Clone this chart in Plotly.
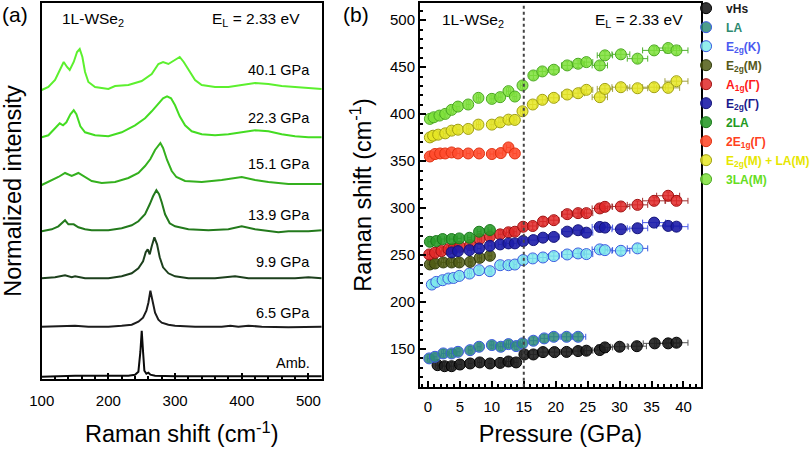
import plotly.graph_objects as go

# ---------------- Panel (a): Raman spectra ----------------
spec_labels = ["Amb.", "6.5 GPa", "9.9 GPa", "13.9 GPa", "15.1 GPa", "22.3 GPa", "40.1 GPa"]
spec_offsets = [0, 49, 97.4, 144.4, 191.7, 238.4, 286.7]
spec_colors = ["#0a0a0a", "#1c1c1c", "#1d401d", "#237a1c", "#34b01e", "#44dc22", "#5cf02e"]

amb_x = [100, 150, 200, 230, 240, 245, 248, 250, 252, 254, 257, 260, 263, 270, 300, 350, 380, 400, 420, 520]
amb_y = [0, 1, 1, 1, 2, 5, 25, 46, 25, 6, 3, 4, 2, 1, 0.5, 0.5, 0.5, 1, 0.3, 0.5]

p65_x = [100, 130, 150, 170, 200, 220, 235, 245, 252, 257, 260, 263, 266, 270, 275, 280, 290, 300, 330, 370, 383, 395, 410, 430, 470, 520]
p65_y = [1, 2, 2, 1, 1, 2, 3, 6, 10, 17, 25, 37, 28, 15, 8, 5, 3, 2, 1, 1, 2, 1, 2, 1, 0.5, 1]

p99_x = [100, 120, 135, 145, 150, 165, 200, 220, 235, 245, 252, 256, 259, 262, 265, 269, 273, 277, 282, 290, 300, 320, 360, 390, 410, 450, 480, 500, 520]
p99_y = [1, 2, 4, 2, 3, 1, 1, 3, 6, 11, 18, 27, 30, 25, 33, 42, 35, 22, 12, 6, 3, 1, 1, 3, 1, 1, 1, 2, 1]

p139_x = [100, 115, 125, 135, 140, 148, 155, 165, 175, 200, 220, 235, 245, 255, 262, 267, 272, 276, 280, 285, 292, 300, 320, 350, 380, 400, 420, 440, 455, 470, 500, 520]
p139_y = [1, 3, 6, 12, 8, 8, 5, 3, 2, 2, 4, 7, 11, 18, 28, 36, 42, 38, 30, 18, 9, 6, 3, 2, 3, 6, 3, 1, 0, 1, 1, 2]

p151_x = [100, 110, 125, 135, 145, 155, 165, 175, 190, 210, 230, 245, 255, 263, 270, 275, 278, 282, 288, 295, 302, 315, 340, 370, 400, 420, 440, 470, 500, 520]
p151_y = [0, 3, 8, 12, 9, 12, 8, 4, 2, 3, 7, 12, 19, 26, 35, 40, 42, 37, 25, 14, 8, 4, 3, 5, 8, 5, 3, 1, 1, 1]

p223_x = [100, 110, 120, 127, 132, 137, 143, 148, 152, 158, 165, 180, 200, 220, 240, 255, 265, 275, 282, 288, 294, 300, 307, 315, 325, 340, 360, 380, 400, 420, 440, 460, 480, 500, 520]
p223_y = [1, 3, 10, 15, 13, 16, 24, 28, 24, 12, 6, 3, 2, 6, 13, 20, 27, 35, 40, 42, 40, 33, 22, 13, 7, 4, 3, 4, 6, 8, 7, 4, 2, 1, 1]

p401_x = [100, 110, 120, 128, 133, 138, 142, 148, 153, 157, 161, 165, 170, 180, 200, 210, 230, 250, 265, 275, 282, 290, 300, 307, 313, 320, 330, 340, 360, 380, 400, 420, 440, 460, 480, 500, 520]
p401_y = [0, 3, 10, 22, 28, 23, 20, 28, 38, 41, 33, 18, 8, 3, 1, 4, 5, 9, 16, 26, 28, 26, 30, 33, 28, 20, 10, 5, 3, 3, 5, 7, 6, 4, 3, 2, 1]

spectra_x = [amb_x, p65_x, p99_x, p139_x, p151_x, p223_x, p401_x]
spectra_y = [amb_y, p65_y, p99_y, p139_y, p151_y, p223_y, p401_y]

# ---------------- Panel (b): Raman shift vs pressure ----------------
vhs_p = [1.5, 2.6, 3.7, 5.0, 6.6, 8.1, 9.7, 11.3, 12.6, 13.8, 15.1, 16.5, 18.0, 19.8, 21.7, 23.5, 24.8, 26.9, 27.7, 30.0, 32.7, 35.5, 37.6, 38.9]
vhs_w = [132.9, 131.8, 131.8, 133.6, 134.7, 135.8, 134.7, 135.3, 136.8, 135.8, 144.3, 144.3, 146.8, 146.8, 147.0, 147.9, 148.3, 149.0, 151.8, 152.5, 153.1, 156.1, 156.1, 156.8]
vhs_e = [0.3, 0.3, 0.3, 0.3, 0.3, 0.3, 0.3, 0.3, 0.3, 0.3, 0.5, 0.6, 0.8, 0.8, 0.9, 1.0, 1.0, 1.2, 1.2, 1.4, 1.5, 1.8, 1.8, 1.8]

la_p = [0.2, 1.1, 2.4, 3.7, 4.7, 6.6, 8.0, 10.0, 11.4, 12.6, 13.8, 14.8, 16.5, 18.2, 19.7, 21.7, 23.5]
la_w = [140.1, 141.8, 145.4, 145.4, 147.1, 148.9, 152.5, 154.3, 152.5, 155.3, 153.2, 156.1, 158.9, 161.4, 163.1, 163.1, 163.1]
la_e = [0.3, 0.3, 0.3, 0.3, 0.3, 0.3, 0.3, 0.3, 0.3, 0.3, 0.3, 0.3, 0.6, 0.6, 0.8, 0.9, 1.2]

e2gk_p = [0.6, 1.3, 2.3, 3.2, 4.0, 4.9, 6.5, 8.0, 9.7, 11.3, 12.6, 13.6, 14.9, 16.4, 18.0, 19.7, 21.8, 23.5, 24.8, 26.9, 27.7, 30.2, 32.8]
e2gk_w = [218.7, 221.5, 223.3, 225.1, 225.7, 227.9, 230.4, 234.0, 232.9, 239.3, 239.3, 240.0, 244.7, 246.5, 247.5, 249.0, 250.7, 251.8, 251.1, 256.1, 255.3, 254.6, 257.2]
e2gk_e = [0.3, 0.3, 0.3, 0.3, 0.3, 0.3, 0.3, 0.3, 0.3, 0.3, 0.3, 0.3, 0.3, 0.6, 0.6, 0.8, 0.9, 1.0, 1.0, 1.2, 1.2, 1.4, 1.6]

e2gm_p = [0.3, 1.1, 2.4, 3.7, 4.9, 6.6, 8.1, 9.7]
e2gm_w = [240.1, 241.1, 242.2, 242.2, 242.2, 242.8, 247.1, 249.3]
e2gm_e = [0.3, 0.3, 0.3, 0.3, 0.3, 0.3, 0.3, 0.3]

a1g_p = [0.2, 1.1, 2.1, 3.2, 4.0, 5.0, 6.6, 8.1, 9.7, 11.3, 12.6, 13.6, 14.9, 16.4, 18.0, 19.7, 21.8, 23.5, 24.8, 26.9, 27.7, 30.2, 32.8, 35.4, 37.6, 38.9]
a1g_w = [250.7, 252.5, 254.3, 256.4, 257.2, 258.9, 260.7, 267.1, 269.6, 272.1, 274.3, 274.9, 280.2, 281.0, 285.7, 287.2, 293.6, 294.7, 294.7, 299.7, 301.4, 301.8, 303.5, 307.8, 313.2, 307.8]
a1g_e = [0.3, 0.3, 0.3, 0.3, 0.3, 0.3, 0.3, 0.3, 0.3, 0.3, 0.3, 0.3, 0.3, 0.6, 0.6, 0.8, 0.9, 1.0, 1.0, 1.2, 1.2, 1.4, 1.6, 1.8, 1.8, 1.8]

e2gg_p = [3.7, 4.7, 6.5, 8.0, 9.7, 11.3, 12.6, 13.6, 14.9, 16.5, 18.0, 19.7, 21.8, 23.5, 24.8, 26.9, 27.7, 30.2, 32.8, 35.4, 37.6, 38.9]
e2gg_w = [252.9, 254.3, 255.3, 257.1, 259.9, 261.4, 262.5, 262.5, 265.0, 266.0, 268.6, 269.4, 275.0, 276.5, 273.9, 280.0, 279.3, 277.6, 278.6, 284.6, 281.1, 280.3]
e2gg_e = [0.3, 0.3, 0.3, 0.3, 0.3, 0.3, 0.3, 0.3, 0.3, 0.6, 0.6, 0.8, 0.9, 1.0, 1.0, 1.2, 1.2, 1.4, 1.6, 1.8, 1.8, 1.8]

la2_p = [0.3, 1.3, 2.3, 3.7, 4.9, 6.5, 8.0, 9.7]
la2_w = [264.2, 265.0, 267.1, 267.1, 267.8, 268.5, 274.9, 276.7]
la2_e = [0.3, 0.3, 0.3, 0.3, 0.3, 0.3, 0.3, 0.3]

e1g2_p = [0.3, 1.1, 1.9, 2.7, 3.7, 4.7, 6.3, 8.0, 10.0, 11.4, 12.6, 13.6]
e1g2_w = [355.0, 357.6, 358.2, 358.2, 359.3, 358.2, 358.2, 358.2, 357.6, 358.6, 364.6, 358.2]
e1g2_e = [0.3, 0.3, 0.3, 0.3, 0.3, 0.3, 0.3, 0.3, 0.3, 0.3, 0.3, 0.3]

comb_p = [0.3, 0.8, 1.6, 2.7, 3.7, 4.7, 6.3, 7.9, 10.0, 11.3, 12.6, 13.6, 14.8, 16.4, 17.9, 19.7, 21.8, 23.5, 24.8, 26.9, 27.7, 30.2, 32.8, 35.4, 37.6, 38.9]
comb_w = [375.3, 377.1, 378.2, 379.6, 382.5, 383.5, 384.3, 388.9, 388.9, 391.3, 394.2, 393.9, 403.1, 410.3, 415.3, 417.4, 420.9, 422.3, 425.9, 418.1, 426.9, 428.7, 427.6, 428.7, 428.0, 435.1]
comb_e = [0.3, 0.3, 0.3, 0.3, 0.3, 0.3, 0.3, 0.3, 0.3, 0.3, 0.3, 0.3, 0.3, 0.6, 0.6, 0.8, 0.9, 1.0, 1.0, 1.2, 1.2, 1.4, 1.6, 1.8, 1.8, 1.8]

la3_p = [0.3, 0.9, 1.8, 2.7, 3.7, 4.7, 6.3, 7.9, 10.0, 11.3, 12.6, 13.6, 14.8, 16.5, 17.9, 19.7, 21.8, 23.5, 24.8, 26.9, 27.7, 30.2, 32.8, 35.4, 37.6, 38.9]
la3_w = [395.0, 396.7, 398.5, 400.3, 404.6, 408.1, 410.3, 417.4, 416.3, 418.1, 424.5, 418.8, 430.6, 441.2, 445.5, 447.3, 451.9, 453.7, 455.4, 451.9, 462.6, 463.7, 459.1, 467.9, 470.4, 467.9]
la3_e = [0.3, 0.3, 0.3, 0.3, 0.3, 0.3, 0.3, 0.3, 0.3, 0.3, 0.3, 0.3, 0.3, 0.6, 0.6, 0.8, 0.9, 1.0, 1.0, 1.2, 1.2, 1.4, 1.6, 1.8, 1.8, 1.8]

series = [
    # name, P, w, xerr, fill, edge, errcolor, legend text colour, show vertical cross
    ("vHs", vhs_p, vhs_w, vhs_e, "rgba(30,30,30,0.9)", "#000000", "#555555", "#1a1a1a", True),
    ("LA", la_p, la_w, la_e, "rgba(46,140,120,0.85)", "#3a5ae0", "#3a5ae0", "#2e8a70", True),
    ("E<sub>2g</sub>(K)", e2gk_p, e2gk_w, e2gk_e, "rgba(128,235,235,0.85)", "#3a5ae0", "#3a5ae0", "#4a5af0", True),
    ("E<sub>2g</sub>(M)", e2gm_p, e2gm_w, e2gm_e, "rgba(80,92,20,0.85)", "#2e3a0a", "#3a4a10", "#55581a", True),
    ("A<sub>1g</sub>(Γ)", a1g_p, a1g_w, a1g_e, "rgba(225,40,40,0.85)", "#a01010", "#a03030", "#ff1a1a", True),
    ("E<sub>2g</sub>(Γ)", e2gg_p, e2gg_w, e2gg_e, "rgba(28,28,168,0.9)", "#14147a", "#4a5ae8", "#1a1a8c", False),
    ("2LA", la2_p, la2_w, la2_e, "rgba(42,155,42,0.9)", "#1a7a1a", "#1a7a1a", "#229922", False),
    ("2E<sub>1g</sub>(Γ)", e1g2_p, e1g2_w, e1g2_e, "rgba(255,75,45,0.9)", "#e03010", "#e03010", "#ff4020", False),
    ("E<sub>2g</sub>(M) + LA(M)", comb_p, comb_w, comb_e, "rgba(230,230,35,0.85)", "#a0a010", "#a0a040", "#e6e600", True),
    ("3LA(M)", la3_p, la3_w, la3_e, "rgba(126,224,58,0.85)", "#4aa820", "#50b030", "#66dd22", True),
]

FONT = "Liberation Sans, Arial, sans-serif"
fig = go.Figure()

for lbl, xs, ys, off, col in zip(spec_labels, spectra_x, spectra_y, spec_offsets, spec_colors):
    fig.add_trace(go.Scatter(x=xs, y=[v + off for v in ys], mode="lines",
                             line=dict(color=col, width=2), showlegend=False,
                             xaxis="x", yaxis="y", hoverinfo="skip"))

for name, xs, ys, xe, fill, edge, ecol, tcol, cross in series:
    fig.add_trace(go.Scatter(
        x=xs, y=ys, mode="markers", xaxis="x2", yaxis="y2",
        name="<b><span style='color:%s'>%s</span></b>" % (tcol, name),
        marker=dict(size=11, color=fill, line=dict(color=edge, width=1)),
        error_x=dict(type="data", array=xe, color=ecol, thickness=1, width=3),
        error_y=dict(type="constant", value=(4 if cross else 0), color=ecol, thickness=1, width=2, visible=cross),
    ))

axis_common = dict(showline=True, linecolor="black", linewidth=2, mirror=True,
                   showgrid=False, zeroline=False, automargin=False,
                   tickfont=dict(family=FONT, size=15, color="black"))
TITLE_SIZE = 23.5

fig.update_layout(
    width=810, height=452,
    margin=dict(l=0, r=0, t=0, b=0, autoexpand=False),
    paper_bgcolor="white", plot_bgcolor="white",
    font=dict(family=FONT, color="black"),
    xaxis=dict(domain=[0.0515, 0.3972], range=[100, 520], anchor="y",
               ticks="inside", ticklen=6, tickwidth=1.5, tickcolor="black",
               tickvals=[100, 200, 300, 400, 500], ticklabelstandoff=7,
               minor=dict(ticks="inside", ticklen=3, dtick=20, tickcolor="black"),
               title=dict(text="Raman shift (cm<sup>-1</sup>)", font=dict(size=TITLE_SIZE, family=FONT), standoff=18),
               **axis_common),
    yaxis=dict(domain=[0.1615, 0.9934], range=[-2.3, 373.7], anchor="x",
               showticklabels=False, ticks="",
               title=dict(text="Normalized intensity", font=dict(size=TITLE_SIZE, family=FONT), standoff=20),
               **axis_common),
    xaxis2=dict(domain=[0.5185, 0.8651], range=[-1.25, 42.7], anchor="y2",
                ticks="inside", ticklen=6, tickwidth=1.5, tickcolor="black", dtick=5, ticklabelstandoff=5,
                minor=dict(ticks="inside", ticklen=3, dtick=1, tickcolor="black"),
                title=dict(text="Pressure (GPa)", font=dict(size=TITLE_SIZE, family=FONT), standoff=12),
                **axis_common),
    yaxis2=dict(domain=[0.1445, 0.9927], range=[110, 518], anchor="x2",
                ticks="inside", ticklen=6, tickwidth=1.5, tickcolor="black", dtick=50,
                minor=dict(ticks="inside", ticklen=3, dtick=10, tickcolor="black"),
                title=dict(text="Raman shift (cm<sup>-1</sup>)", font=dict(size=TITLE_SIZE, family=FONT), standoff=12),
                **axis_common),
    legend=dict(x=0.847, y=1.014, xanchor="left", yanchor="top",
                bgcolor="rgba(0,0,0,0)", font=dict(family=FONT, size=12),
                tracegroupgap=0, itemwidth=30),
    shapes=[dict(type="line", xref="x2", yref="y2 domain", x0=15, x1=15, y0=0, y1=1,
                 line=dict(color="#444444", width=2, dash="dot"))],
)

ann = []
# panel labels
ann.append(dict(text="(a)", x=0.0, y=0.968, xref="paper", yref="paper", xanchor="left", yanchor="middle",
                showarrow=False, font=dict(size=21, family=FONT)))
ann.append(dict(text="(b)", x=0.421, y=0.968, xref="paper", yref="paper", xanchor="left", yanchor="middle",
                showarrow=False, font=dict(size=21, family=FONT)))
# in-panel text
for xr, yr, xa in [("x domain", "y domain", 0.065), ("x2 domain", "y2 domain", 0.07)]:
    ann.append(dict(text="1L-WSe<sub>2</sub>", x=xa, y=0.955, xref=xr, yref=yr, xanchor="left", yanchor="middle",
                    showarrow=False, font=dict(size=15.5, family=FONT)))
ann.append(dict(text="E<sub>L</sub> = 2.33 eV", x=0.93, y=0.955, xref="x domain", yref="y domain",
                xanchor="right", yanchor="middle", showarrow=False, font=dict(size=15.5, family=FONT)))
ann.append(dict(text="E<sub>L</sub> = 2.33 eV", x=0.945, y=0.955, xref="x2 domain", yref="y2 domain",
                xanchor="right", yanchor="middle", showarrow=False, font=dict(size=15.5, family=FONT)))
label_heights = [13.4, 14.4, 17.6, 17.3, 21.0, 20.0, 20.0]
for lbl, off, h in zip(spec_labels, spec_offsets, label_heights):
    ann.append(dict(text=lbl, x=505, y=off + h, xref="x", yref="y", xanchor="right", yanchor="middle",
                    showarrow=False, font=dict(size=14.5, family=FONT)))
fig.update_layout(annotations=ann)

fig.write_html("out.html")
